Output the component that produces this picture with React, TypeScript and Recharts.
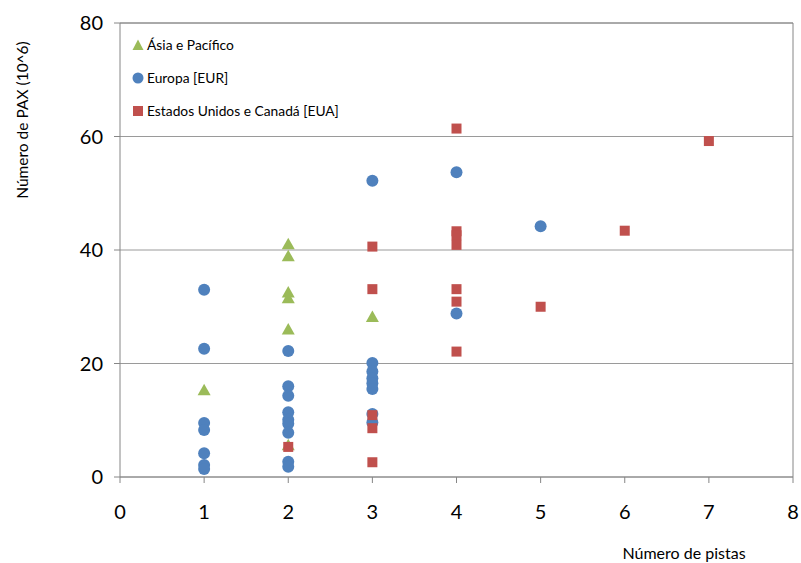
import React from 'react';
import {
  ScatterChart,
  Scatter,
  XAxis,
  YAxis,
  CartesianGrid,
  ReferenceLine,
  Legend,
} from 'recharts';

// Axis ticks
const xTicks = [0, 1, 2, 3, 4, 5, 6, 7, 8];
const yTicks = [0, 20, 40, 60, 80];

// Ásia e Pacífico: number of runways / passengers (10^6)
const asiaRunways = [1, 2, 2, 2, 2, 2, 2, 3];
const asiaPax = [15.3, 41.0, 38.9, 32.5, 31.5, 26.0, 5.6, 28.2];

// Europa [EUR]
const eurRunways = [
  1, 1, 1, 1, 1, 1, 1,
  2, 2, 2, 2, 2, 2, 2, 2, 2,
  3, 3, 3, 3, 3, 3, 3, 3,
  4, 4,
  5,
];
const eurPax = [
  33.0, 22.6, 9.5, 8.3, 4.2, 2.1, 1.4,
  22.2, 16.0, 14.3, 11.4, 10.1, 9.4, 7.8, 2.7, 1.8,
  52.2, 20.1, 18.6, 17.4, 16.5, 15.5, 11.1, 9.6,
  53.7, 28.8,
  44.2,
];

// Estados Unidos e Canadá [EUA]
const euaRunways = [2, 3, 3, 3, 3, 3, 4, 4, 4, 4, 4, 4, 4, 5, 6, 7];
const euaPax = [5.3, 40.6, 33.1, 10.9, 8.6, 2.6, 61.4, 43.3, 42.6, 40.9, 33.1, 30.9, 22.1, 30.0, 43.4, 59.2];

const toPoints = (xs: number[], ys: number[]) => xs.map((x, i) => ({ pistas: x, pax: ys[i] }));

const asiaData = toPoints(asiaRunways, asiaPax);
const eurData = toPoints(eurRunways, eurPax);
const euaData = toPoints(euaRunways, euaPax);

const GREEN = '#9BBB59';
const BLUE = '#4F81BD';
const RED = '#C0504D';
const AXIS = '#868686';
const GRID = '#9a9a9a';
const FONT = 'Lato, "Open Sans", sans-serif';

const TriangleMark = (props: any) => {
  const { cx, cy } = props;
  if (cx == null || cy == null) return null;
  return (
    <polygon
      points={`${cx},${cy - 6.5} ${cx + 6.5},${cy + 5} ${cx - 6.5},${cy + 5}`}
      fill={GREEN}
    />
  );
};

const CircleMark = (props: any) => {
  const { cx, cy } = props;
  if (cx == null || cy == null) return null;
  return <circle cx={cx} cy={cy} r={6} fill={BLUE} />;
};

const SquareMark = (props: any) => {
  const { cx, cy } = props;
  if (cx == null || cy == null) return null;
  return <rect x={cx - 5} y={cy - 5} width={10} height={10} fill={RED} />;
};

const legendItems = [
  { label: 'Ásia e Pacífico', kind: 'triangle', color: GREEN },
  { label: 'Europa [EUR]', kind: 'circle', color: BLUE },
  { label: 'Estados Unidos e Canadá [EUA]', kind: 'square', color: RED },
];

const LegendIcon = ({ kind, color }: { kind: string; color: string }) => (
  <svg width={12} height={12} style={{ display: 'block', marginRight: 3 }}>
    {kind === 'triangle' && <polygon points="6,0.5 11.5,11 0.5,11" fill={color} />}
    {kind === 'circle' && <circle cx={6} cy={6} r={5.5} fill={color} />}
    {kind === 'square' && <rect x={1} y={1} width={10} height={10} fill={color} />}
  </svg>
);

const LegendContent = () => (
  <div style={{ fontFamily: FONT, fontSize: 13.8, color: '#000' }}>
    {legendItems.map((it) => (
      <div
        key={it.label}
        style={{ display: 'flex', alignItems: 'center', height: 33, whiteSpace: 'nowrap' }}
      >
        <LegendIcon kind={it.kind} color={it.color} />
        <span>{it.label}</span>
      </div>
    ))}
  </div>
);

// Rotated y-axis title, placed near the upper part of the axis
const YTitle = (props: any) => {
  const { viewBox } = props;
  const x = viewBox.x + viewBox.width - 98;
  const y = viewBox.y + 97;
  return (
    <text
      x={x}
      y={y}
      transform={`rotate(-90, ${x}, ${y})`}
      textAnchor="middle"
      dominantBaseline="central"
      fontFamily={FONT}
      fontSize={15.5}
      fill="#000"
    >
      Número de PAX (10^6)
    </text>
  );
};

const XTitle = (props: any) => {
  const { viewBox } = props;
  const x = viewBox.x + viewBox.width - 109;
  const y = viewBox.y + 75;
  return (
    <text
      x={x}
      y={y}
      textAnchor="middle"
      dominantBaseline="central"
      fontFamily={FONT}
      fontSize={16}
      fill="#000"
    >
      Número de pistas
    </text>
  );
};

export default function App() {
  return (
    <div style={{ position: 'absolute', left: 0, top: 0, width: 801, height: 563, background: '#fff' }}>
      <ScatterChart
        width={801}
        height={563}
        margin={{ top: 23, right: 8, bottom: 0, left: 0 }}
      >
        <CartesianGrid horizontal vertical={false} stroke={GRID} strokeWidth={1} />
        <XAxis
          type="number"
          dataKey="pistas"
          domain={[0, 8]}
          ticks={xTicks}
          interval={0}
          height={86}
          stroke={AXIS}
          tickSize={6}
          tickMargin={22}
          tick={{ fill: '#000', fontSize: 20, fontFamily: FONT }}
          label={<XTitle />}
        />
        <YAxis
          type="number"
          dataKey="pax"
          domain={[0, 80]}
          ticks={yTicks}
          interval={0}
          width={120}
          stroke={AXIS}
          tickSize={6}
          tickMargin={11}
          tick={{ fill: '#000', fontSize: 20, fontFamily: FONT }}
          label={<YTitle />}
        />
        <ReferenceLine x={8} stroke={AXIS} strokeWidth={1} />
        <ReferenceLine y={80} stroke={AXIS} strokeWidth={1} />
        <Legend
          layout="vertical"
          align="center"
          verticalAlign="middle"
          wrapperStyle={{ left: 132, top: 28, width: 280 }}
          content={<LegendContent />}
        />
        <Scatter
          name="Ásia e Pacífico"
          data={asiaData}
          shape={<TriangleMark />}
          isAnimationActive={false}
        />
        <Scatter
          name="Europa [EUR]"
          data={eurData}
          shape={<CircleMark />}
          isAnimationActive={false}
        />
        <Scatter
          name="Estados Unidos e Canadá [EUA]"
          data={euaData}
          shape={<SquareMark />}
          isAnimationActive={false}
        />
      </ScatterChart>
    </div>
  );
}
